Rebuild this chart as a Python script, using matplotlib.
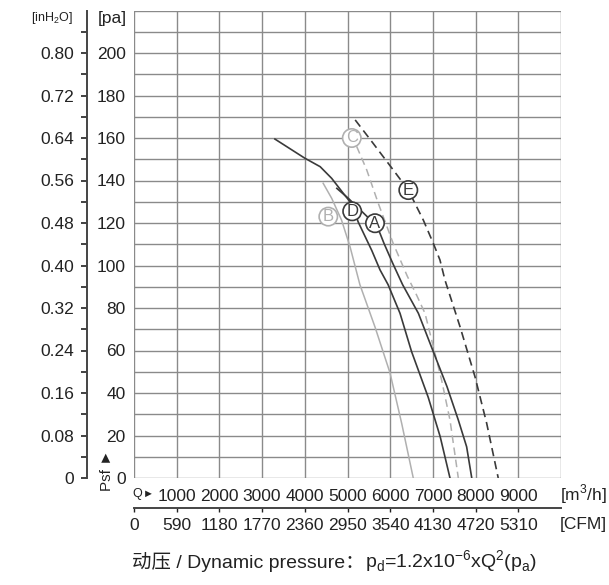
import matplotlib
matplotlib.use("Agg")
import matplotlib.pyplot as plt

plt.rcParams["font.family"] = ["Liberation Sans", "DejaVu Sans", "Noto Sans CJK SC"]
plt.rcParams["mathtext.fontset"] = "custom"
plt.rcParams["mathtext.rm"] = "Liberation Sans"

# Kennlinien (Q in m3/h, p in Pa)
curve_d_q = [3300, 4000, 4360, 4630, 4900, 5100, 5250, 5570, 5760, 5950, 6230, 6500, 6890, 7170, 7400]
curve_d_p = [159.5, 150.5, 146.5, 141, 134, 129, 120.5, 107, 98, 91, 77.5, 59.5, 38, 19.5, 0]

curve_a_q = [4750, 5020, 5640, 5760, 5855, 6060, 6290, 6660, 7010, 7330, 7595, 7790, 7910]
curve_a_p = [136.3, 131.6, 119.5, 115.2, 110.4, 101, 91, 77.5, 59.4, 43, 27.3, 14.7, 0]

curve_c_q = [5215, 5450, 5720, 6070, 6400, 6620, 6815, 7010, 7205, 7400, 7595]
curve_c_p = [156, 145, 129.3, 110.4, 95, 86, 77.5, 61.8, 46, 27.3, 0]

curve_e_q = [5180, 5600, 6070, 6424, 6775, 7010, 7165, 7285, 7635, 7985, 8260, 8530]
curve_e_p = [168.5, 157.5, 145, 135.5, 121.4, 110.4, 102.6, 93, 71.2, 47.7, 25.7, 0]

curve_b_q = [4430, 4630, 4860, 5060, 5290, 5645, 5995, 6270, 6540]
curve_b_p = [138.7, 131.6, 121.4, 108.8, 91, 71, 49.5, 25.6, 0]

# Beschriftungen der Kurven
label_names = ["C", "E", "B", "D", "A"]
label_q = [5100, 6424, 4550, 5110, 5644]
label_p = [160, 135.5, 123, 125.5, 119.9]
label_colors = ["#b0b0b0", "#3a3a3a", "#b0b0b0", "#3a3a3a", "#3a3a3a"]

q_ticks = [1000, 2000, 3000, 4000, 5000, 6000, 7000, 8000, 9000]
cfm_ticks = [0, 1000, 2000, 3000, 4000, 5000, 6000, 7000, 8000, 9000]
cfm_labels = ["0", "590", "1180", "1770", "2360", "2950", "3540", "4130", "4720", "5310"]
pa_ticks = [0, 20, 40, 60, 80, 100, 120, 140, 160, 180, 200]
inh2o_labels = ["0", "0.08", "0.16", "0.24", "0.32", "0.40", "0.48", "0.56", "0.64", "0.72", "0.80"]

grid_col = "#8a8a8a"
dark = "#3a3a3a"
light = "#b0b0b0"
txt = "#222222"

fig = plt.figure(figsize=(6.09, 5.85), dpi=100)
ax = fig.add_axes([134 / 609, 1 - 478 / 585, 427 / 609, 467.5 / 585])

ax.set_xlim(0, 10000)
ax.set_ylim(0, 220)

# Gitter
for x in range(0, 10001, 1000):
    ax.axvline(x, color=grid_col, lw=1.0, zorder=1)
for y in range(0, 221, 10):
    ax.axhline(y, color=grid_col, lw=1.0, zorder=1)
for s in ax.spines.values():
    s.set_visible(False)

# Kurven
ax.plot(curve_b_q, curve_b_p, color=light, lw=1.1, zorder=3)
ax.plot(curve_c_q, curve_c_p, color=light, lw=1.1, ls=(0, (5, 3)), zorder=3)
ax.plot(curve_e_q, curve_e_p, color=dark, lw=1.2, ls=(0, (5, 3)), zorder=3)
ax.plot(curve_d_q, curve_d_p, color=dark, lw=1.2, zorder=3)
ax.plot(curve_a_q, curve_a_p, color=dark, lw=1.2, zorder=3)

for name, q, p, c in zip(label_names, label_q, label_p, label_colors):
    ax.text(q, p, name, color=c, fontsize=12, ha="center", va="center", zorder=5,
            bbox=dict(boxstyle="circle,pad=0.1", fc="white", ec=c, lw=1.2))

# Achsen
ax.set_xticks(q_ticks)
ax.set_xticklabels([str(q) for q in q_ticks])
ax.set_yticks(pa_ticks)
ax.tick_params(axis="x", length=0, pad=8, labelsize=12.5, colors=txt)
ax.tick_params(axis="y", length=0, pad=6, labelsize=12.5, colors=txt)

# CFM-Achse
sec_x = ax.secondary_xaxis(-30 / 467.5)
sec_x.set_xticks(cfm_ticks, labels=cfm_labels)
sec_x.spines["bottom"].set_color("#444444")
sec_x.spines["bottom"].set_linewidth(1.4)
sec_x.spines["bottom"].set_bounds(0, 10000)
sec_x.tick_params(length=3, width=1, pad=4, labelsize=12.5, colors=txt)

# inH2O-Achse
sec_y = ax.secondary_yaxis(-47 / 427)
sec_y.set_yticks(pa_ticks, labels=inh2o_labels)
sec_y.set_yticks(list(range(10, 221, 20)), minor=True)
sec_y.spines["left"].set_color("#444444")
sec_y.spines["left"].set_linewidth(1.4)
sec_y.tick_params(which="both", length=4, width=1.2, pad=5, labelsize=12.5, colors=txt)
sec_y.tick_params(which="minor", labelleft=False)

# Einheiten
fig.text(52 / 609, 1 - 18 / 585, r"[inH$_\mathregular{2}$O]", fontsize=9, ha="center", va="center", color=txt)
fig.text(112 / 609, 1 - 18 / 585, "[pa]", fontsize=12.5, ha="center", va="center", color=txt)
fig.text(107 / 609, 1 - 470 / 585, "Psf ►", fontsize=11, rotation=90, ha="center", va="center", color=txt)
fig.text(132 / 609, 1 - 494 / 585, "Q", fontsize=9, ha="left", va="center", color=txt)
fig.text(143 / 609, 1 - 494 / 585, "►", fontsize=8, ha="left", va="center", color=txt)
fig.text(607 / 609, 1 - 494 / 585, r"[m$^\mathregular{3}$/h]", fontsize=12.5, ha="right", va="center", color=txt)
fig.text(607 / 609, 1 - 524 / 585, "[CFM]", fontsize=12.5, ha="right", va="center", color=txt)

# Fusszeile: Text und Formel getrennt (Mathtext kennt keinen CJK-Fallback)
title_y = 1 - 568 / 585
t1 = fig.text(132 / 609, title_y, "动压 / Dynamic pressure：",
              fontsize=14, ha="left", va="baseline", color=txt)
fig.canvas.draw()
x_end = t1.get_window_extent().x1 / fig.bbox.width
fig.text(x_end, title_y,
         r"p$_\mathregular{d}$=1.2x10$^\mathregular{-6}$xQ$^\mathregular{2}$(p$_\mathregular{a}$)",
         fontsize=14, ha="left", va="baseline", color=txt)

fig.savefig("out.png", dpi=100, facecolor="white")
